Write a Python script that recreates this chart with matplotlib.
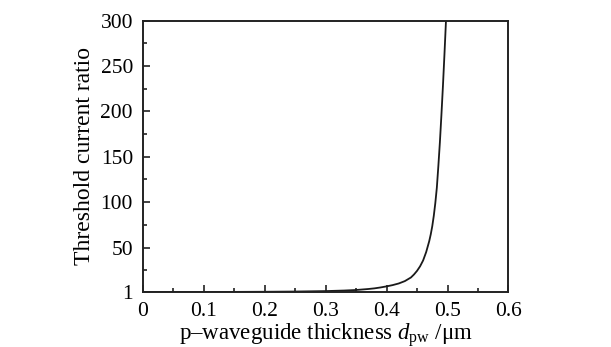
import matplotlib
matplotlib.use('Agg')
import matplotlib.pyplot as plt
from matplotlib.ticker import MultipleLocator

plt.rcParams['font.family'] = 'Liberation Serif'
plt.rcParams['mathtext.fontset'] = 'custom'
plt.rcParams['mathtext.rm'] = 'Liberation Serif'
plt.rcParams['mathtext.it'] = 'Liberation Serif:italic'

# curve
thickness = [0.0, 0.05, 0.10, 0.15, 0.20, 0.25, 0.30, 0.33, 0.35, 0.37, 0.38,
             0.39, 0.40, 0.41, 0.42, 0.43, 0.44, 0.445, 0.45, 0.455, 0.46,
             0.465, 0.47, 0.4725, 0.475, 0.4775, 0.48, 0.4825, 0.485, 0.4875,
             0.49, 0.4925, 0.495, 0.4975]
ratio = [1.0, 1.02, 1.05, 1.12, 1.25, 1.5, 2.0, 2.6, 3.2, 4.3, 5.0,
         6.0, 7.2, 8.6, 10.4, 13.0, 17.0, 20.3, 24.3, 29.3, 35.8,
         45, 57, 64.5, 73.5, 85, 99, 116, 140, 166,
         196, 228, 263, 300]

x_ticks = [0, 0.1, 0.2, 0.3, 0.4, 0.5, 0.6]
x_ticklabels = ['0', '0.1', '0.2', '0.3', '0.4', '0.5', '0.6']
y_ticks = [1, 50, 100, 150, 200, 250, 300]
y_ticklabels = ['1', '50', '100', '150', '200', '250', '300']

fig = plt.figure(figsize=(6.11, 3.47), dpi=100)
ax = fig.add_axes([0.2335, 0.1585, 0.5987, 0.7818])

ax.plot(thickness, ratio, color='#1a1a1a', lw=1.3)

ax.set_xlim(0, 0.6)
ax.set_ylim(1, 300)
ax.set_xticks(x_ticks)
ax.set_xticklabels(x_ticklabels)
ax.set_yticks(y_ticks)
ax.set_yticklabels(y_ticklabels)
ax.xaxis.set_minor_locator(MultipleLocator(0.05))
ax.yaxis.set_minor_locator(MultipleLocator(25))
ax.tick_params(which='both', direction='in', top=False, right=False,
               labelsize=15.5, pad=7, width=1.2, color='#222222')
ax.tick_params(which='major', length=5)
ax.tick_params(which='minor', length=3)

for s in ax.spines.values():
    s.set_linewidth(1.4)
    s.set_color('#222222')

ax.set_xlabel(r'p–waveguide thickness $d_{\rm pw}$ /μm', fontsize=16.5, labelpad=0)
ax.set_ylabel('Threshold current ratio', fontsize=17, labelpad=4)

fig.savefig('out.png', dpi=100)
